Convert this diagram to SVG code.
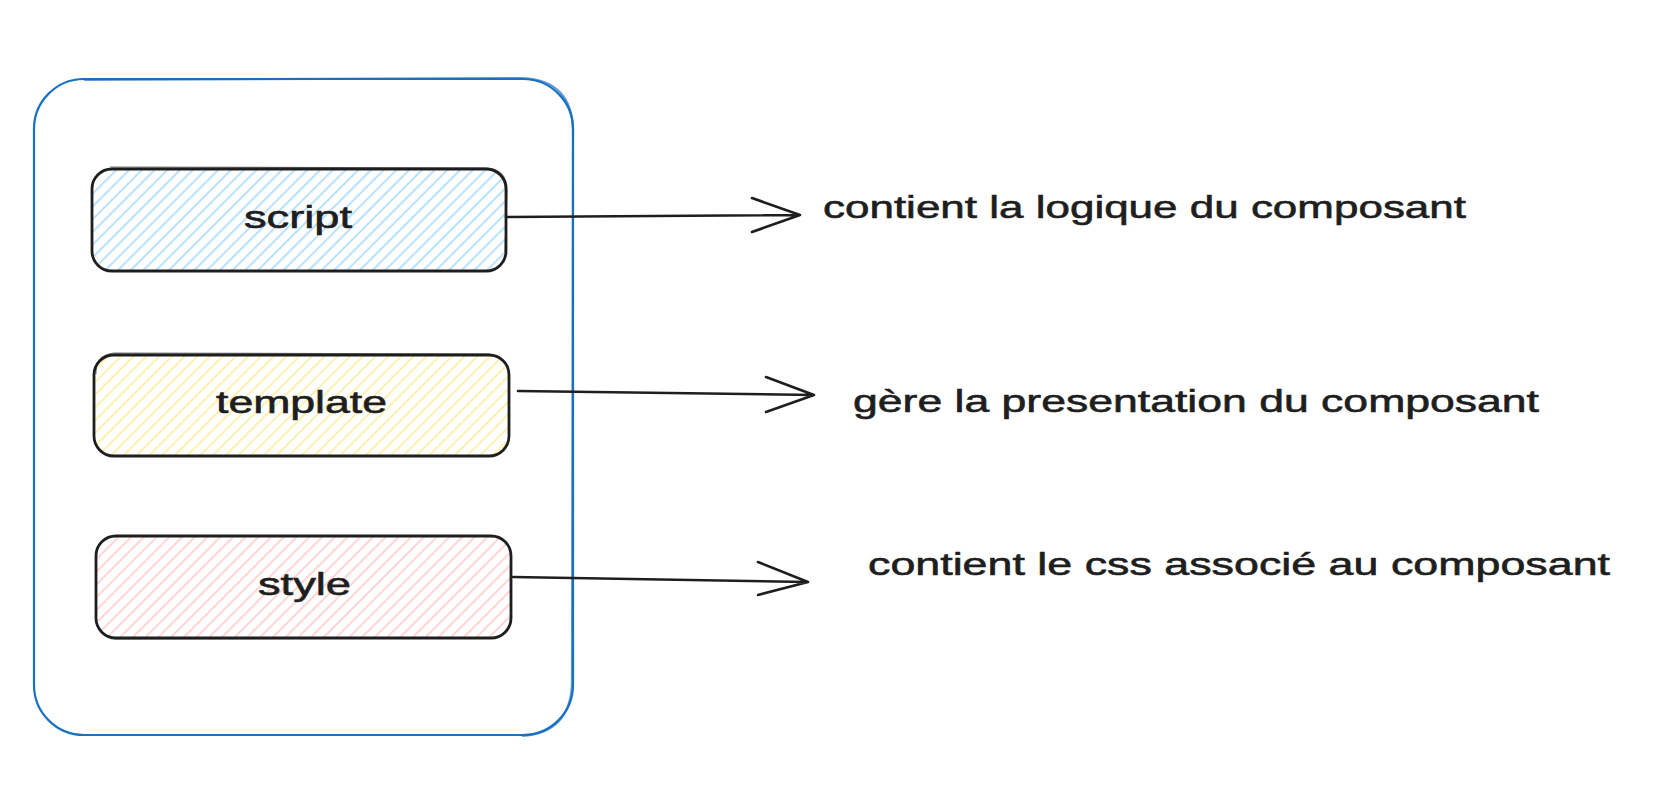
<svg xmlns="http://www.w3.org/2000/svg" width="1670" height="796" viewBox="0 0 1670 796">
<defs>
<pattern id="hBlue" patternUnits="userSpaceOnUse" width="9" height="9" patternTransform="rotate(45)"><line x1="4.5" y1="0" x2="4.5" y2="9" stroke="#a5d8ff" stroke-width="1.6"/></pattern>
<pattern id="hYellow" patternUnits="userSpaceOnUse" width="9" height="9" patternTransform="rotate(45)"><line x1="4.5" y1="0" x2="4.5" y2="9" stroke="#ffec99" stroke-width="1.6"/></pattern>
<pattern id="hPink" patternUnits="userSpaceOnUse" width="9" height="9" patternTransform="rotate(45)"><line x1="4.5" y1="0" x2="4.5" y2="9" stroke="#ffc9c9" stroke-width="1.6"/></pattern>
</defs>
<style>
.outer{fill:none;stroke:#1971c2;stroke-width:2.2}
.box{stroke:#1e1e1e;stroke-width:2.8}
.sk{fill:none;stroke:#1e1e1e;stroke-width:1.2;opacity:0.6}
.lbl{font-family:"Liberation Sans",Arial,sans-serif;font-size:32px;fill:#1e1e1e;stroke:#1e1e1e;stroke-width:0.6}
.conn{fill:none;stroke:#1e1e1e;stroke-width:2.6;stroke-linecap:round;stroke-linejoin:round}
</style>
<rect width="1670" height="796" fill="#ffffff"/>
<g id="container">
<rect class="outer" x="34" y="79" width="539" height="656" rx="50"/>
<path class="outer" d="M84 80 L522 78 Q572 80 573 130 L572 684 Q570 733 522 736" stroke-width="1" opacity="0.7"/>
</g>
<g id="node-script">
<rect class="box" x="92" y="169" width="414" height="102" rx="20" fill="url(#hBlue)"/>
<path class="sk" d="M110 167 L488 168 Q507 170 507 190 L505 252"/>
<text class="lbl" x="244" y="228" textLength="108" lengthAdjust="spacingAndGlyphs">script</text>
</g>
<g id="node-template">
<rect class="box" x="94" y="355" width="415" height="101" rx="20" fill="url(#hYellow)"/>
<path class="sk" d="M96 374 Q95 355 114 353 L490 354"/>
<text class="lbl" x="216" y="413" textLength="171" lengthAdjust="spacingAndGlyphs">template</text>
</g>
<g id="node-style">
<rect class="box" x="96" y="536" width="415" height="102" rx="20" fill="url(#hPink)"/>
<path class="sk" d="M114 639 L494 638"/>
<text class="lbl" x="258" y="595" textLength="93" lengthAdjust="spacingAndGlyphs">style</text>
</g>
<g id="connectors">
<path class="conn" d="M506 217 L800 215 M752 198 L800 215 L752 232"/>
<path class="conn" d="M518 391 L814 395 M766 377 L814 395 L766 412"/>
<path class="conn" d="M513 577 L808 582 M758 562 L808 582 L758 595"/>
</g>
<g id="notes">
<text class="lbl" x="823" y="218" textLength="643" lengthAdjust="spacingAndGlyphs">contient la logique du composant</text>
<text class="lbl" x="853" y="412" textLength="686" lengthAdjust="spacingAndGlyphs">gère la presentation du composant</text>
<text class="lbl" x="868" y="575" textLength="742" lengthAdjust="spacingAndGlyphs">contient le css associé au composant</text>
</g>
</svg>
